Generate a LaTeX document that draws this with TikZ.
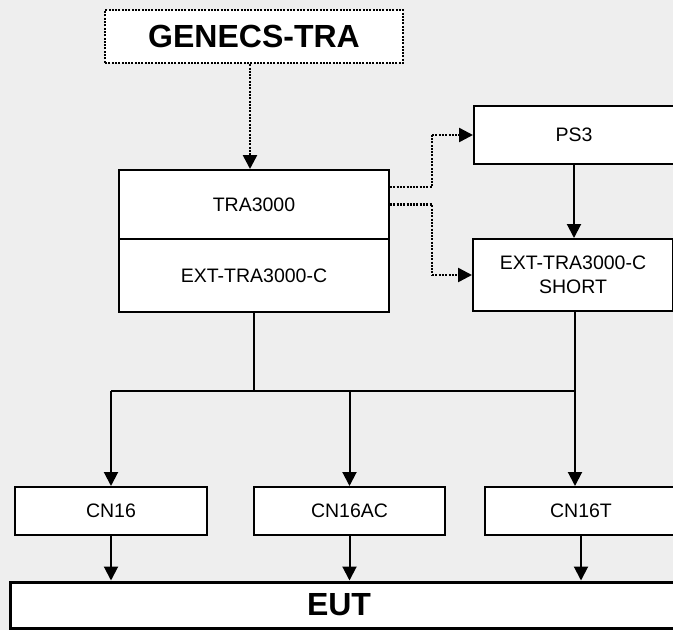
\documentclass[tikz,border=0pt]{standalone}
\usepackage{fontspec}
\setmainfont{Liberation Sans}
\usetikzlibrary{arrows.meta}
\definecolor{bgc}{HTML}{EEEEEE}
\begin{document}
\begin{tikzpicture}[x=1pt,y=-1pt,
  box/.style={draw=black,fill=white,line width=2pt,inner sep=0pt,rectangle,
    font=\fontsize{19.5}{23.5}\selectfont,align=center},
  dotbox/.style={box,line width=2.5pt,dash pattern=on 2pt off 1.3pt,
    font=\fontsize{32}{36}\selectfont\bfseries},
  conn/.style={line width=2pt},
  arr/.style={conn,-{Triangle[length=14pt,width=14pt]}},
  dotarr/.style={line width=2.5pt,dash pattern=on 2pt off 1.3pt,-{Triangle[length=14pt,width=14pt]}},
  dotline/.style={line width=2.5pt,dash pattern=on 2pt off 1.3pt}
]
\useasboundingbox (0,0) rectangle (673,630);
\clip (0,0) rectangle (673,630);
\fill[bgc] (0,0) rectangle (673,630);

\node[dotbox,minimum width=298pt,minimum height=53pt] (gen) at (254,36.5) {GENECS-TRA};
\node[box,minimum width=270pt,minimum height=69pt] (tra) at (254,204.5) {TRA3000};
\node[box,minimum width=270pt,minimum height=73pt] (ext) at (254,275.5) {EXT-TRA3000-C};
\node[box,minimum width=200pt,minimum height=58pt] (ps3) at (574,135) {PS3};
\node[box,minimum width=200pt,minimum height=72pt] (short) at (573,275) {EXT-TRA3000-C\\SHORT};
\node[box,minimum width=192pt,minimum height=48pt] (cn16) at (111,511) {CN16};
\node[box,minimum width=191pt,minimum height=48pt] (cn16ac) at (349.5,511) {CN16AC};
\node[box,minimum width=192pt,minimum height=48pt] (cn16t) at (581,511) {CN16T};
\node[box,line width=3pt,minimum width=680pt,minimum height=46pt] (eut) at (350,605) {};
\node[font=\fontsize{32}{36}\selectfont\bfseries,inner sep=0pt] (eutlabel) at (339,605) {EUT};

\coordinate (bus) at (0,391);

\draw[dotarr] ([xshift=-4pt]gen.south) -- ([xshift=-4pt]tra.north);
\draw[dotline] ([yshift=17.5pt]tra.east) -- ++(42,0) coordinate (d1) -- (d1 |- ps3.west);
\draw[dotarr] (d1 |- ps3.west) -- (ps3.west);
\draw[dotline] (tra.east) -- ++(42,0) coordinate (d2) -- (d2 |- short.west);
\draw[dotarr] (d2 |- short.west) -- (short.west);
\draw[arr] (ps3.south) -- (ps3.south |- short.north);

\draw[conn] (ext.south) -- (ext.south |- bus);
\draw[conn] (cn16.north |- bus) -- ([xshift=2pt]short.south |- bus);
\draw[arr] ([xshift=2pt]short.south) -- ([xshift=2pt]short.south |- cn16t.north);
\draw[arr] (cn16.north |- bus) -- (cn16.north);
\draw[arr] (cn16ac.north |- bus) -- (cn16ac.north);

\draw[arr] (cn16.south) -- (cn16.south |- eut.north);
\draw[arr] (cn16ac.south) -- (cn16ac.south |- eut.north);
\draw[arr] (cn16t.south) -- (cn16t.south |- eut.north);
\end{tikzpicture}
\end{document}
